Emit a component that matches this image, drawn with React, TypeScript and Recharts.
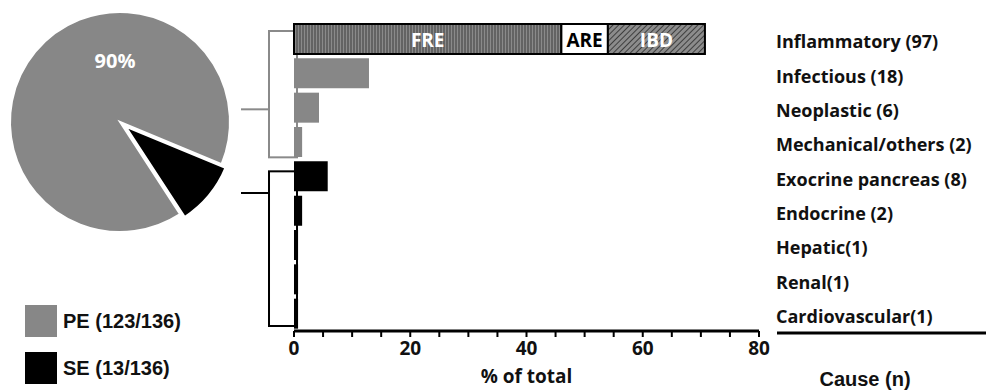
import {
  PieChart,
  Pie,
  Cell,
  Legend,
  BarChart,
  Bar,
  XAxis,
  YAxis,
  ReferenceArea,
} from "recharts";

// pie: primary vs secondary enteropathy
const groups = ["PE", "SE"];
const groupCounts = [123, 13];
const groupColors = ["#878787", "#000000"];

// bar chart rows
const causes = [
  "Inflammatory (97)",
  "Infectious (18)",
  "Neoplastic (6)",
  "Mechanical/others (2)",
  "Exocrine pancreas (8)",
  "Endocrine (2)",
  "Hepatic(1)",
  "Renal(1)",
  "Cardiovascular(1)",
];
const causeGroup = ["PE", "PE", "PE", "PE", "SE", "SE", "SE", "SE", "SE"];
const causePct = [70.7, 12.9, 4.3, 1.4, 5.8, 1.4, 0.7, 0.7, 0.7];

// split of the inflammatory bar
const inflammatoryParts = ["FRE", "ARE", "IBD"];
const inflammatoryPct = [46, 8, 16.7];

const xTicks = [0, 5, 10, 15, 20, 25, 30, 35, 40, 45, 50, 55, 60, 65, 70, 75, 80];

const total = groupCounts.reduce((a, b) => a + b, 0);
const pieData = groups.map((g, i) => ({ name: g, value: groupCounts[i] }));

const rows = causes.map((c, i) => {
  const row: any = { cause: c };
  if (i === 0) {
    inflammatoryParts.forEach((p, j) => (row[p] = inflammatoryPct[j]));
  } else {
    row[causeGroup[i]] = causePct[i];
  }
  return row;
});

const labelFont = "'Open Sans', Lato, sans-serif";

const segLabel = (text: string, color: string) => (props: any) => {
  const { x, y, width, height, value } = props;
  if (!value) return null;
  return (
    <text
      x={x + width / 2}
      y={y + height / 2 + 1}
      textAnchor="middle"
      dominantBaseline="central"
      fill={color}
      fontFamily={labelFont}
      fontWeight="bold"
      fontSize={19}
    >
      {text}
    </text>
  );
};

const bracket = (color: string, top: number, bottom: number, joinAt: number) => (props: any) => {
  const { x, y, width, height } = props;
  const y0 = y + top;
  const h = height - top - bottom;
  const yj = y0 + h * joinAt;
  return (
    <g>
      <rect x={x} y={y0} width={width + 3} height={h} fill="#fff" stroke={color} strokeWidth={2} />
      <line x1={x - 28} y1={yj} x2={x} y2={yj} stroke={color} strokeWidth={2} />
    </g>
  );
};

const CauseTick = (props: any) => {
  const { x, y, payload } = props;
  return (
    <text
      x={x}
      y={y + 2}
      textAnchor="start"
      dominantBaseline="central"
      fill="#111"
      fontFamily={labelFont}
      fontWeight="bold"
      fontSize={18}
    >
      {payload.value}
    </text>
  );
};

const causeTitle = (props: any) => {
  const { x, y, width, height } = props.viewBox;
  return (
    <g>
      <line x1={x + 18} y1={y + height + 2} x2={x + width} y2={y + height + 2} stroke="#000" strokeWidth={3} />
      <text
        x={x + 106}
        y={y + height + 48}
        textAnchor="middle"
        dominantBaseline="central"
        fill="#111"
        fontFamily="'Liberation Sans', Arial, sans-serif"
        fontWeight="bold"
        fontSize={20}
      >
        Cause (n)
      </text>
    </g>
  );
};

const pieLabel = (props: any) => {
  const { cx, cy, index, percent } = props;
  if (index !== 0) return null;
  return (
    <text
      x={cx - 5}
      y={cy - 62}
      textAnchor="middle"
      dominantBaseline="central"
      fill="#fff"
      fontFamily={labelFont}
      fontWeight="bold"
      fontSize={20}
    >
      {Math.round(percent * 100)}%
    </text>
  );
};

const legendContent = () => (
  <div>
    {groups.map((g, i) => (
      <div key={g} style={{ display: "flex", alignItems: "center", height: 32, marginBottom: 15 }}>
        <span style={{ width: 32, height: 32, background: groupColors[i], display: "inline-block" }} />
        <span
          style={{
            marginLeft: 6,
            fontFamily: "'Liberation Sans', Arial, sans-serif",
            fontWeight: "bold",
            fontSize: 20,
            color: "#111",
          }}
        >
          {g} ({groupCounts[i]}/{total})
        </span>
      </div>
    ))}
  </div>
);

export default function App() {
  return (
    <div style={{ position: "absolute", left: 0, top: 0, width: 986, height: 390, background: "#fff" }}>
      <div style={{ position: "absolute", left: 0, top: 0 }}>
        <PieChart width={250} height={390} margin={{ top: 0, right: 0, bottom: 0, left: 0 }}>
          <Pie
            data={pieData}
            dataKey="value"
            cx={120}
            cy={122}
            outerRadius={110}
            startAngle={-22.5}
            endAngle={337.5}
            label={pieLabel}
            labelLine={false}
            isAnimationActive={false}
          >
            <Cell fill={groupColors[0]} stroke="#fff" strokeWidth={2} />
            <Cell fill="none" stroke="none" />
          </Pie>
          <Pie
            data={pieData}
            dataKey="value"
            cx={124.5}
            cy={125.5}
            outerRadius={110}
            startAngle={-22.5}
            endAngle={337.5}
            isAnimationActive={false}
          >
            <Cell fill="none" stroke="none" />
            <Cell fill={groupColors[1]} stroke="#fff" strokeWidth={3} />
          </Pie>
          <Legend
            verticalAlign="bottom"
            content={legendContent}
            wrapperStyle={{ left: 25, top: 305, bottom: "auto", width: 230 }}
          />
        </PieChart>
      </div>
      <div style={{ position: "absolute", left: 230, top: 0 }}>
        <BarChart
          width={756}
          height={390}
          data={rows}
          layout="vertical"
          margin={{ top: 22, right: 0, bottom: 2, left: 64 }}
          barSize={30}
        >
          <defs>
            <pattern id="freFill" width="3" height="6" patternUnits="userSpaceOnUse">
              <rect width="3" height="6" fill="#8a8a8a" />
              <line x1="1" y1="0" x2="1" y2="6" stroke="#3c3c3c" strokeWidth="1" />
            </pattern>
            <pattern id="ibdFill" width="4" height="4" patternUnits="userSpaceOnUse" patternTransform="rotate(45)">
              <rect width="4" height="4" fill="#8c8c8c" />
              <line x1="0" y1="0" x2="0" y2="4" stroke="#2a2a2a" strokeWidth="1.6" />
            </pattern>
          </defs>
          <XAxis
            type="number"
            domain={[0, 80]}
            ticks={xTicks}
            interval={0}
            tickFormatter={(v: number) => (v % 20 === 0 ? String(v) : "")}
            axisLine={{ stroke: "#000", strokeWidth: 3 }}
            tickLine={{ stroke: "#000", strokeWidth: 2 }}
            tickSize={6}
            tickMargin={5}
            height={57}
            tick={{ fill: "#111", fontFamily: labelFont, fontWeight: "bold", fontSize: 19 }}
            label={{
              value: "% of total",
              position: "insideBottom",
              offset: 5,
              fill: "#111",
              fontFamily: labelFont,
              fontWeight: "bold",
              fontSize: 19,
            }}
          />
          <YAxis
            yAxisId="left"
            type="category"
            dataKey="cause"
            width={0}
            tick={false}
            tickLine={false}
            axisLine={{ stroke: "#000", strokeWidth: 4 }}
          />
          <YAxis
            yAxisId="right"
            orientation="right"
            type="category"
            dataKey="cause"
            width={227}
            tickSize={0}
            tickMargin={17}
            axisLine={false}
            tick={<CauseTick />}
            label={causeTitle}
          />
          <ReferenceArea
            yAxisId="left"
            x1={-4.3}
            x2={0}
            y1={causes[0]}
            y2={causes[3]}
            ifOverflow="visible"
            shape={bracket("#8a8a8a", 9, 2, 0.62)}
          />
          <ReferenceArea
            yAxisId="left"
            x1={-4.3}
            x2={0}
            y1={causes[4]}
            y2={causes[8]}
            ifOverflow="visible"
            shape={bracket("#000", 12, 5, 0.14)}
          />
          <Bar yAxisId="left" dataKey="FRE" stackId="a" fill="url(#freFill)" stroke="#000" strokeWidth={2} label={segLabel("FRE", "#fff")} isAnimationActive={false} />
          <Bar yAxisId="left" dataKey="ARE" stackId="a" fill="#fff" stroke="#000" strokeWidth={2} label={segLabel("ARE", "#000")} isAnimationActive={false} />
          <Bar yAxisId="left" dataKey="IBD" stackId="a" fill="url(#ibdFill)" stroke="#000" strokeWidth={2} label={segLabel("IBD", "#fff")} isAnimationActive={false} />
          <Bar yAxisId="left" dataKey="PE" stackId="a" fill={groupColors[0]} isAnimationActive={false} />
          <Bar yAxisId="left" dataKey="SE" stackId="a" fill={groupColors[1]} isAnimationActive={false} />
        </BarChart>
      </div>
    </div>
  );
}
